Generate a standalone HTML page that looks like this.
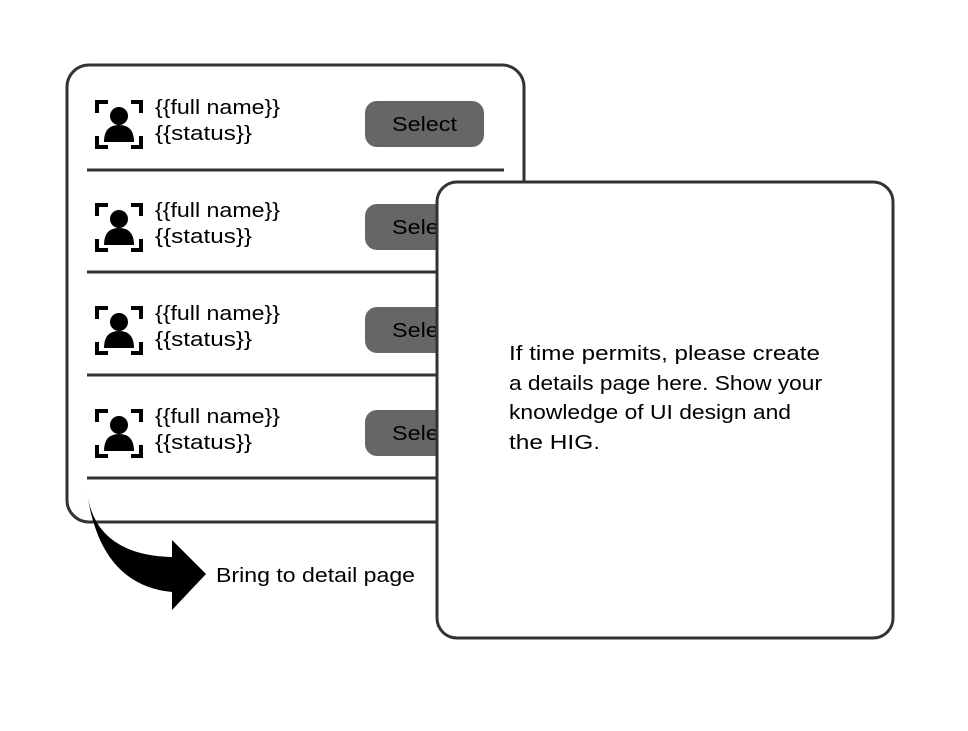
<!DOCTYPE html>
<html><head><style>body{margin:0;background:#fff}</style></head><body>
<svg width="968" height="726" xmlns="http://www.w3.org/2000/svg" font-family="'Comic Sans MS','Liberation Sans',sans-serif">
<rect x="67" y="65" width="457" height="457" rx="22" fill="#fff" stroke="#333" stroke-width="3"/>
<g stroke="#333" stroke-width="3">
<line x1="87" y1="170" x2="504" y2="170"/><line x1="87" y1="272" x2="504" y2="272"/>
<line x1="87" y1="375" x2="504" y2="375"/><line x1="87" y1="478" x2="504" y2="478"/>
</g>
<defs>
<g id="row">
<g fill="none" stroke="#000" stroke-width="4">
<path d="M97 113V102H108M131 102H141V113M97 136V147H108M131 147H141V136"/>
</g>
<circle cx="119" cy="116" r="9" fill="#000"/>
<path d="M104 142Q104 125 119 125Q134 125 134 142Z" fill="#000"/>
<text x="155" y="114" font-size="20" fill="#000" textLength="125" lengthAdjust="spacingAndGlyphs">{{full name}}</text>
<text x="155" y="140" font-size="20" fill="#000" textLength="97" lengthAdjust="spacingAndGlyphs">{{status}}</text>
<rect x="365" y="101" width="119" height="46" rx="12" fill="#666"/>
<text x="392" y="131" font-size="20" fill="#000" textLength="65" lengthAdjust="spacingAndGlyphs">Select</text>
</g>
</defs>
<use href="#row"/>
<use href="#row" y="103"/>
<use href="#row" y="206"/>
<use href="#row" y="309"/>
<path d="M87 492Q95 555 172 557V540L206 574L172 610V592Q100 585 87 492Z" fill="#000"/>
<text x="216" y="582" font-size="20" fill="#000" textLength="199" lengthAdjust="spacingAndGlyphs">Bring to detail page</text>
<rect x="437" y="182" width="456" height="456" rx="20" fill="#fff" stroke="#333" stroke-width="3"/>
<g font-size="20" fill="#000" lengthAdjust="spacingAndGlyphs">
<text x="509" y="360" textLength="311" lengthAdjust="spacingAndGlyphs">If time permits, please create</text>
<text x="509" y="390" textLength="313" lengthAdjust="spacingAndGlyphs">a details page here. Show your</text>
<text x="509" y="419" textLength="282" lengthAdjust="spacingAndGlyphs">knowledge of UI design and</text>
<text x="509" y="449" textLength="91" lengthAdjust="spacingAndGlyphs">the HIG.</text>
</g>
</svg>
</body></html>
